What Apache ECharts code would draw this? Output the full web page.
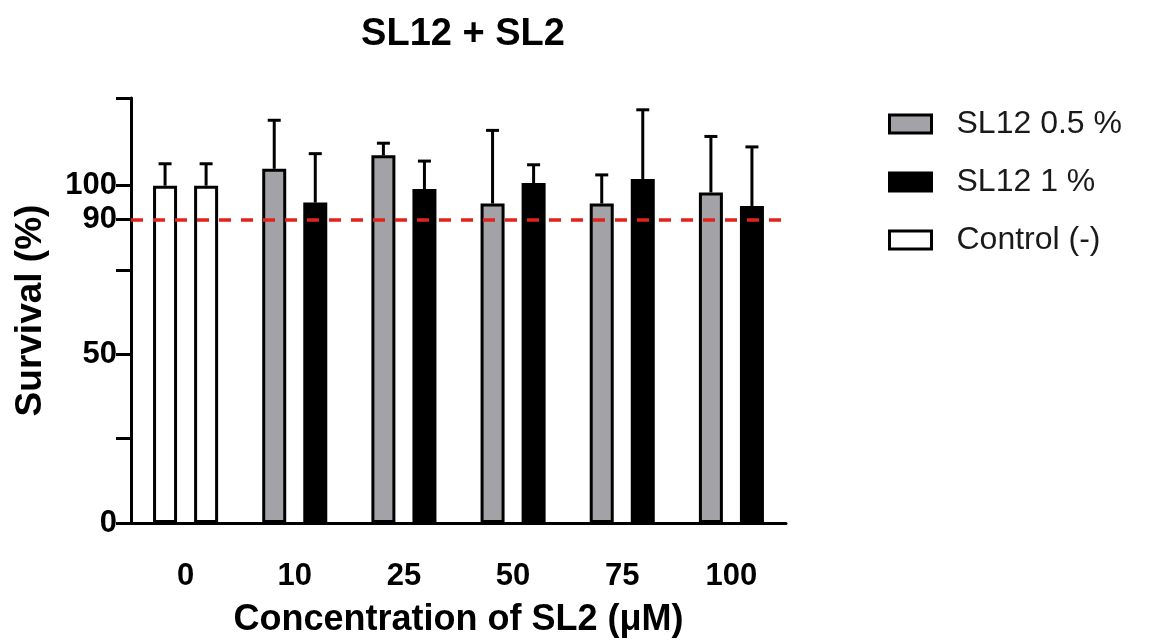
<!DOCTYPE html>
<html>
<head>
<meta charset="utf-8">
<script src="https://cdn.jsdelivr.net/npm/echarts@6/dist/echarts.min.js"></script>
<style>
  html, body { margin: 0; padding: 0; background: #fff; }
  #chart { width: 1149px; height: 643px; }
</style>
</head>
<body>
<div id="chart"></div>
<script>
// data
const categories = ["0", "10", "25", "50", "75", "100"];
const controlMean = [100, 100];
const controlSd = [6.5, 6.5];
const lowMean = [null, 105, 109, 94.7, 94.7, 98];       // SL12 0.5 %
const lowSd = [null, 14.4, 3.6, 21.7, 8.5, 16.6];
const highMean = [null, 95, 99, 100.8, 102, 94];        // SL12 1 %
const highSd = [null, 14.5, 8.3, 5.4, 20.5, 17.5];
const yTicks = [0, 25, 50, 75, 90, 100, 126];
const yLabels = [0, 50, 90, 100];
const threshold = 90;

const BAR_W = 24;
const BAR_GAP = 0.71;
const SLOT_OFF = (BAR_W + BAR_W * BAR_GAP) / 2;
const FONT = "Liberation Sans, Arial, sans-serif";

let chart = echarts.init(document.getElementById("chart"));

// error bars: [catIndex, mean, sd, slot]
let errData = [];
controlMean.forEach((m, i) => errData.push([0, m, controlSd[i], i]));
lowMean.forEach((m, i) => { if (m != null) errData.push([i, m, lowSd[i], 0]); });
highMean.forEach((m, i) => { if (m != null) errData.push([i, m, highSd[i], 1]); });

function pad(arr, idx) {
  // put values on category 0 only, rest empty
  return categories.map((c, i) => (i === 0 ? arr[idx] : "-"));
}

const barBorder = { borderColor: "#000", borderWidth: 3 };

chart.setOption({
  animation: false,
  title: {
    text: "SL12 + SL2",
    left: 458,
    textAlign: "center",
    top: 11,
    textStyle: { fontFamily: FONT, fontWeight: "bold", fontSize: 38, color: "#000" },
  },
  legend: {
    data: ["SL12 0.5 %", "SL12 1 %", "Control (-)"],
    orient: "vertical",
    icon: "rect",
    left: 883,
    top: 103,
    itemWidth: 42,
    itemHeight: 18,
    itemGap: 26,
    itemStyle: { borderColor: "#000", borderWidth: 3 },
    textStyle: { fontFamily: FONT, fontSize: 32, color: "#1a1a1a", padding: [0, 0, 0, 20] },
  },
  grid: { left: 131, right: 363, top: 98, bottom: 115 },
  xAxis: {
    type: "category",
    data: categories,
    name: "Concentration of SL2 (μM)",
    nameLocation: "middle",
    nameGap: 79,
    nameTextStyle: { fontFamily: FONT, fontWeight: "bold", fontSize: 36, color: "#000" },
    axisLine: { lineStyle: { color: "#000", width: 3 } },
    axisTick: { alignWithLabel: true, length: 17, lineStyle: { color: "#000", width: 3 } },
    axisLabel: { margin: 38, fontFamily: FONT, fontWeight: "bold", fontSize: 31, color: "#000" },
  },
  yAxis: {
    type: "value",
    min: 0,
    max: 126,
    name: "Survival (%)",
    nameLocation: "middle",
    nameGap: 82,
    nameTextStyle: { fontFamily: FONT, fontWeight: "bold", fontSize: 37, color: "#000" },
    splitLine: { show: false },
    axisLine: { show: true, lineStyle: { color: "#000", width: 3 } },
    axisTick: { show: true, length: 15, customValues: yTicks, lineStyle: { color: "#000", width: 3 } },
    axisLabel: {
      customValues: yLabels,
      margin: 14,
      fontFamily: FONT,
      fontWeight: "bold",
      fontSize: 31,
      color: "#000",
    },
  },
  series: [
    {
      name: "SL12 0.5 %",
      type: "bar",
      stack: "a",
      barWidth: BAR_W,
      barGap: BAR_GAP * 100 + "%",
      data: lowMean.map((v) => (v == null ? "-" : v)),
      itemStyle: { color: "#a3a2a7", ...barBorder },
    },
    {
      name: "SL12 1 %",
      type: "bar",
      stack: "b",
      barWidth: BAR_W,
      barGap: BAR_GAP * 100 + "%",
      data: highMean.map((v) => (v == null ? "-" : v)),
      itemStyle: { color: "#000", ...barBorder },
    },
    {
      name: "Control (-)",
      type: "bar",
      stack: "a",
      barWidth: BAR_W,
      data: pad(controlMean, 0),
      itemStyle: { color: "#fff", ...barBorder },
    },
    {
      name: "Control (-)",
      type: "bar",
      stack: "b",
      barWidth: BAR_W,
      data: pad(controlMean, 1),
      itemStyle: { color: "#fff", ...barBorder },
    },
    {
      // error bars (mean + sd) and the 90 % line
      type: "custom",
      z: 5,
      silent: true,
      data: errData,
      encode: { x: 0, y: 1 },
      renderItem: function (params, api) {
        let cat = api.value(0);
        let mean = api.value(1);
        let sd = api.value(2);
        let dx = api.value(3) === 0 ? -SLOT_OFF : SLOT_OFF;
        let p0 = api.coord([cat, mean]);
        let p1 = api.coord([cat, mean + sd]);
        let x = p0[0] + dx;
        let style = { stroke: "#000", lineWidth: 3 };
        return {
          type: "group",
          children: [
            { type: "line", shape: { x1: x, y1: p0[1], x2: x, y2: p1[1] }, style: style },
            { type: "line", shape: { x1: x - 6.5, y1: p1[1], x2: x + 6.5, y2: p1[1] }, style: style },
          ],
        };
      },
      markLine: {
        silent: true,
        symbol: "none",
        label: { show: false },
        lineStyle: { color: "#e3221c", type: [12, 10], width: 3.5 },
        data: [{ yAxis: threshold }],
      },
    },
  ],
});
</script>
</body>
</html>
